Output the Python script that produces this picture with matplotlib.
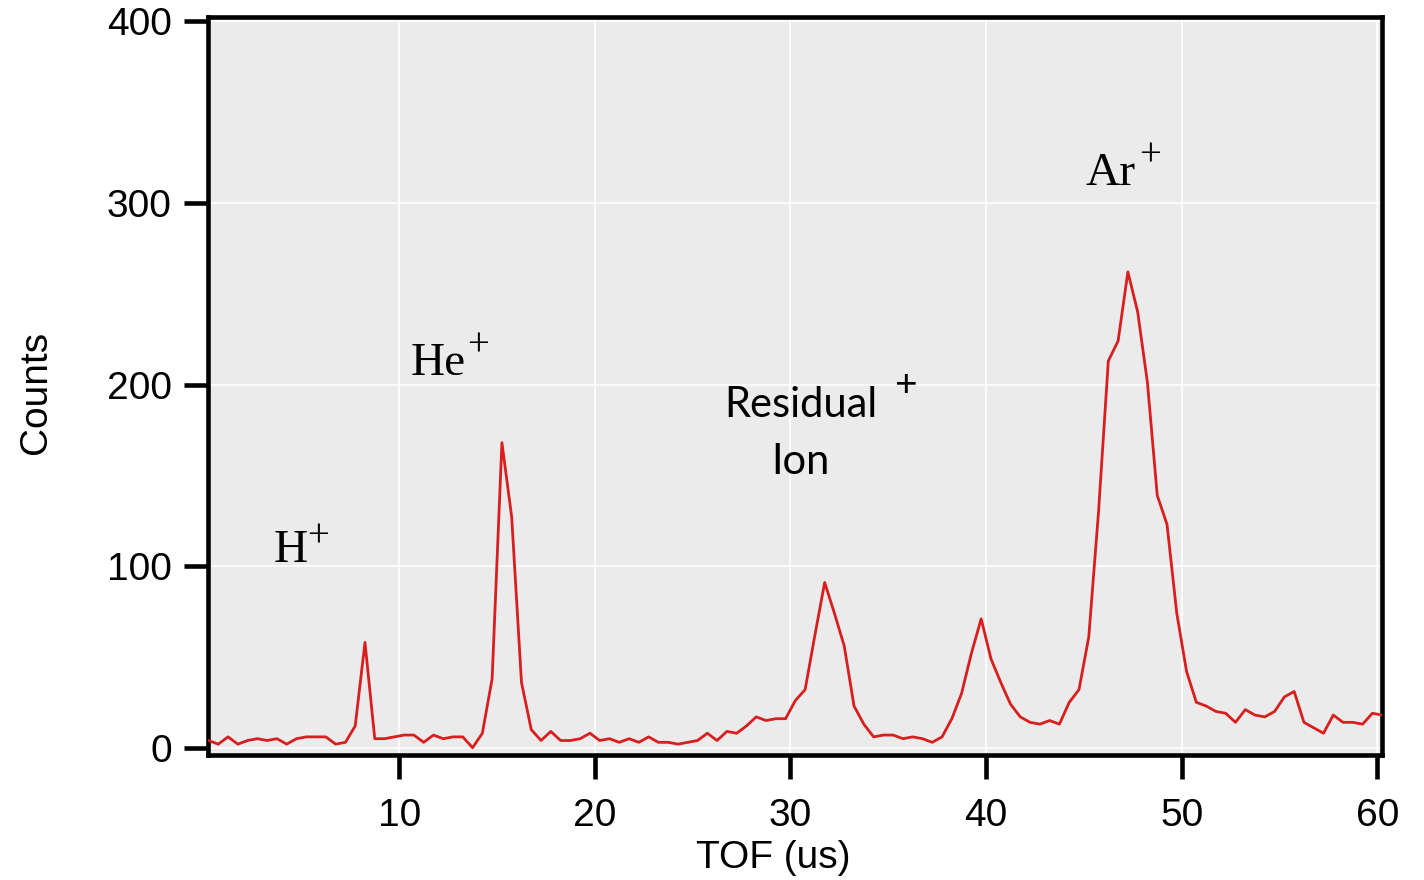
import numpy as np
import matplotlib
matplotlib.use("Agg")
import matplotlib.pyplot as plt

# time of flight axis, 0.5 us bins
tof = 0.25 + 0.5 * np.arange(121)

counts = [
    4, 2, 6, 2, 4, 5, 4, 5, 2, 5,
    6, 6, 6, 2, 3, 12, 58, 5, 5, 6,
    7, 7, 3, 7, 5, 6, 6, 0, 8, 38,
    168, 127, 36, 10, 4, 9, 4, 4, 5, 8,
    4, 5, 3, 5, 3, 6, 3, 3, 2, 3,
    4, 8, 4, 9, 8, 12, 17, 15, 16, 16,
    26, 32, 62, 91, 74, 56, 23, 13, 6, 7,
    7, 5, 6, 5, 3, 6, 16, 30, 52, 71,
    49, 36, 24, 17, 14, 13, 15, 13, 25, 32,
    61, 130, 213, 224, 262, 240, 201, 139, 123, 74,
    42, 25, 23, 20, 19, 14, 21, 18, 17, 20,
    28, 31, 14, 11, 8, 18, 14, 14, 13, 19,
    18,
]

peak_labels = ["H", "He", "Ar"]
peak_label_pos = [(3.6, 102.5), (10.6, 205.5), (45.1, 310)]
plus_pos = [(5.85, 116), (14.05, 221), (48.4, 326)]

plt.rcParams['font.family'] = ['Liberation Sans', 'DejaVu Sans']

fig = plt.figure(figsize=(14.24, 8.8), dpi=100)
ax = fig.add_axes([0.146, 0.142, 0.8245, 0.839])

ax.set_facecolor('#ebebeb')
ax.plot(tof, counts, color='#d81e1e', lw=2.0, zorder=3)

ax.set_xlim(0.22, 60.24)
ax.set_ylim(-4, 402.5)
ax.set_xticks([10, 20, 30, 40, 50, 60])
ax.set_yticks([0, 100, 200, 300, 400])
ax.grid(True, color='white', lw=1.2, zorder=1)
ax.set_axisbelow(True)

for side in ['left', 'bottom', 'right', 'top']:
    ax.spines[side].set_linewidth(3.3)
    ax.spines[side].set_color('black')
ax.tick_params(axis='both', which='major', direction='out', length=17, width=3.3,
               labelsize=28)
ax.tick_params(axis='x', pad=14)
ax.tick_params(axis='y', pad=9)

fig.text(773 / 1424, 1 - 858 / 880, 'TOF (us)', fontsize=28, ha='center', va='center')
fig.text(36 / 1424, 1 - 392 / 880, 'Counts', fontsize=28, ha='center', va='center',
         rotation=90)

for name, (px, py) in zip(peak_labels, peak_label_pos):
    ax.text(px, py, name, fontsize=34, family='Liberation Serif', zorder=4)
# superscript plus signs
for px, py in plus_pos:
    ax.text(px, py, '+', fontsize=28, family='Liberation Serif', ha='center',
            va='center', zorder=4)

ax.text(30.54, 182, 'Residual', fontsize=30, family='Lato', ha='center',
        va='baseline', zorder=4)
ax.text(30.5, 151, 'Ion', fontsize=30, family='Lato', ha='center',
        va='baseline', zorder=4)
ax.text(35.9, 200, '+', fontsize=28, family='Lato', ha='center', va='center',
        zorder=4)

fig.savefig('out.png', dpi=100)
